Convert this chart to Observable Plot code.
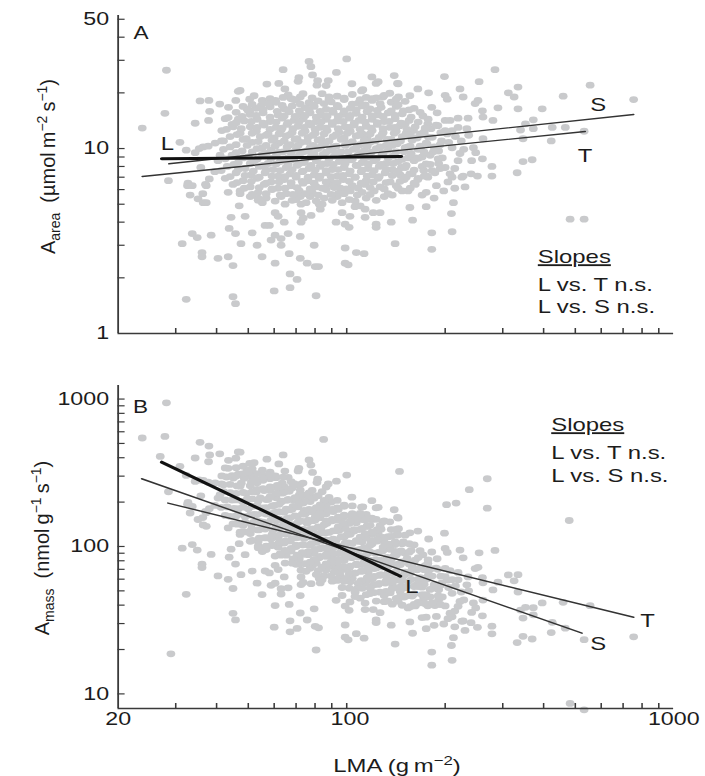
<!DOCTYPE html>
<html><head><meta charset="utf-8">
<script src="https://cdn.jsdelivr.net/npm/d3@7"></script>
<script src="https://cdn.jsdelivr.net/npm/@observablehq/plot@0.6"></script>
<style>
html,body{margin:0;padding:0;background:#fff;overflow:hidden;}
#chart{width:705px;height:776px;position:relative;background:#fff;}
#chart svg{display:block;}
</style></head><body><div id="chart"></div>
<script>
// ---------- tick values ----------
const lmaLabels = [20, 100, 1000];
const lmaMinorTicks = [30, 40, 50, 60, 70, 80, 90, 100, 200, 300, 400, 500, 600, 700, 800, 900];
const aareaLabels = [1, 10, 50];
const aareaMinorTicks = [2, 3, 4, 5, 6, 7, 8, 9, 10, 20, 30, 40, 50];
const amassLabels = [10, 100, 1000];
const amassMinorTicks = [10, 20, 30, 40, 50, 60, 70, 80, 90, 100, 200, 300, 400, 500, 600, 700, 800, 900, 1000];

// ---------- species points: [LMA (g m-2), Aarea (umol m-2 s-1)] ----------
const leavesA = [
  [32.3,1.53],[44.9,1.58],[45.7,1.45],[60,1.7],[67.1,1.77],[80.6,1.6],[67.1,2.1],[70.5,1.96],
  [31.4,3.06],[33.7,3.47],[34.9,3.3],[38.5,3.4],[36.1,2.74],[36.1,2.6],[40.4,2.55],[43.4,2.6],[44.9,2.33],[43.7,3.7],[45.7,3.47],[47.5,3.06],[53.2,3.0],[55.1,2.6],[60.4,2.4],[63,3.0],[58.7,3.2],[60.4,3.4],[63,3.26],[66.2,3.47],[66.7,2.7],[72.1,2.55],[75.7,2.4],[80.1,2.3],[82,2.3],[72.1,3.35],[79.5,3.0],[98.9,2.9],[98.9,2.4],[101,2.35],[107,2.74],[113,2.7],[140.6,3.06],
  [51.4,3.5],[56.3,3.84],[58,3.84],[60.4,4.5],[64.4,4.0],[61.7,4.3],[72.5,4.0],[73.6,4.2],[77.8,4.35],[72.5,4.5],[72.5,5.0],[72.1,5.5],[82.4,5.0],[83,4.7],[92.8,4.0],[98.9,3.9],[101.7,3.75],[102.3,4.3],[96.8,4.5],[106,4.85],[113.8,4.7],[113.8,4.25],[120.5,4.5],[126.5,4.5],[123,3.9],[123,3.75],[136.8,4.0],
  [48.9,4.3],[46.9,4.9],[44.3,4.25],[33.2,5.6],[35.1,5.35],[36.4,5.1],[32.6,6.3],[37.2,6.3],[43.4,5.8],[47.2,5.7],[53.6,5.4],
  [154,5.9],[175,5.8],[156,4.8],[175,4.85],[212,5.1],[209,4.45],[210,3.55],[182,3.5],[182,2.85],[159,4.1],[482,4.15],[532,4.15],
  [28.1,26.5],[23.7,12.9],[27.8,15.5],[46.6,20.4],[35.6,18.1],[40.9,17.4],[38.1,15.9],[34.4,13.7],[37.8,14.2],[50.5,18.5],[63.9,26.7],[76.7,29.6],[77.7,27.7],[100,30.5],[93,25.8],[71,23.1],[78.6,25],[139.7,24.8],[124.8,23],[143.6,22.4],[135.4,19.9],[30.9,10.8],[32.3,9.8],[34.4,9.5],[36.4,10.2],[37.7,10.3],[28.5,6.7],[32.7,6.5],[37,6.4],[38,6.85],[41.4,11],[42.9,12.7],[45,13.1],[43.4,14.7],[49.5,16.4],[46.6,14.4],[54.8,17.1],[60.5,18.2],[67.6,18.6],[73.5,19.8],[64.7,21],[87.8,23.3],[81.1,22],[103.7,22.4],[111,20.5],[119.4,18.6],[119.4,24.4],
  [284,26.7],[199,24.5],[254,23],[555,22],[754,18.4],[459,19.2],[396,16.4],[334,21.5],[312,20],[325,19],[334,16.4],[372,14.3],[466,13],[532,12.4],[425,13],[372,12.8],[290,16.6],[252,18.2],[247,17.5],[261,14.8],[280,14.2],[261,11.3],[346,11.3],[346,8.5],[369,8.7],[332,7.4],[278,8.0],[260,8.8],[278,7.1],[251,7.1],[240,7.3],[227,7.1],[210,7.0],[186,7.4],[176,7.1],[222,21],[227,19],[200,19.4],[203,18.5],[178,20],[165,21],[143,22.5],[182,16.7],[189,15.6],[200,14.2],[219,14.6],[235,14.6],[233,12.8],[244,10.1],[224,11],[203,12],[210,10.1],[191,9.7],[178,11.5],[168,10],[159,11.5],[151,13.6],[191,8.3],
  [422,11],[340,12.6],[352,13.6],[260,16],[219,13],
  [35.4,10],[35.8,7.9],[33.7,6.3],[36.3,5.7],[37.2,5.1],[39.5,7.5],[41,9.2],
  [37.9,18.2],[47.2,20.6],[52.1,19.3],[71.4,24.2],[81.5,23.3],[86.5,21.9],[88.3,19],[112,20.8],[129,19],[144,19],[156,19.3],[149,16],[123,22.5],[62,22.5],[57,22.3],[50.5,16],[45.8,18.2],[43.5,16.7],
  [147,7.9],[156,7.3],[170,9],[177,7],[200,7.9],[207,7.3],[162,6.4],[225,7.0],[146,11],[154,10.2],[160,12.5],[177,13.6],[171,15],[190,13.3],[210,12.5],[195,11],[219,8.6],[241,8.6],
  [165,6.8],[172,7.6],[180,8.2],[188,6.3],[196,8.9],[204,6.6],[214,7.8],[222,9.4],[230,6.2],[168,12],[176,10.6],[184,9.6],[194,12.2],[205,10.8],[215,11.6],[228,9.9],[185,5.4],[198,5.9],[163,8.9],[236,11.8],[248,9.5],[214,6.1],[170,5.6],[181,12.8],[207,14.2],
  [66.2,19.5],[72.1,19.0],[84.1,19.8],[93.5,19.2],[104,19.6],[114.7,18.9],[130.2,19.4],
  [55.2,18.2],[60.8,17.8],[70,18.3],[76.7,17.7],[81.8,18.1],[89.6,17.9],[98.2,18.4],[108.4,17.6],[119.6,18.2],[136.8,17.8],[150.9,18],
  [48.2,16.9],[52.9,16.5],[58.3,16.8],[64.4,16.4],[68.1,17.0],[74.6,16.6],[79.5,16.9],[86.5,16.3],[94.2,16.8],[102.5,16.5],[111.5,17.0],[117.9,16.4],[127.4,16.7],[141.7,16.9],[160.7,16.5],
  [45.9,15.7],[50.7,15.3],[55.5,15.6],[61.7,15.2],[66.7,15.8],[72.1,15.4],[77.3,15.6],[84.1,15.1],[90.9,15.7],[97.5,15.3],[106.9,15.5],[115.5,15.8],[124.8,15.2],[133.9,15.6],[147.8,15.4],[167.7,15.7],
  [42.5,14.5],[48.6,14.1],[53.2,14.4],[58.3,14.0],[63.5,14.6],[69,14.2],[73.6,14.5],[80.7,14.0],[86.5,14.4],[93.5,14.1],[101.8,14.6],[109.1,14.2],[119.6,14.4],[130.2,14.0],[140.6,14.5],[155.2,14.2],[177.4,14.4],
  [44.6,13.5],[50.7,13.1],[55.9,13.4],[60.8,13.0],[65.7,13.5],[71,13.2],[77.8,13.4],[82.9,13.0],[90.3,13.5],[98.9,13.1],[105.4,13.4],[114.7,13.2],[124,13.5],[135.8,13.0],[145.7,13.3],[161.9,13.1],[187.7,13.4],
  [41.5,12.5],[47.2,12.1],[52.9,12.4],[57.5,12.0],[63,12.6],[68.1,12.2],[74.6,12.4],[80.1,12.1],[87.1,12.5],[94.8,12.2],[102.5,12.4],[111.5,12.0],[119.6,12.5],[129.2,12.2],[141.7,12.4],[152,12.1],[172.5,12.3],[200,12.5],
  [44,11.6],[49.3,11.3],[54.4,11.6],[60,11.4],[65.3,11.7],[70.5,11.3],[76.2,11.5],[83.5,11.2],[90.9,11.6],[98.2,11.4],[106.9,11.7],[115.5,11.3],[125.7,11.5],[136.8,11.2],[147.8,11.6],[164.2,11.4],[182.5,11.5],
  [39.6,10.7],[45.9,10.5],[51.4,10.8],[56.7,10.4],[62.1,10.7],[67.1,10.5],[72.6,10.8],[78.9,10.4],[85.9,10.6],[92.9,10.3],[101.1,10.7],[109.9,10.5],[117.9,10.8],[132,10.4],[142.6,10.6],[156.3,10.3],[174.9,10.7],[193.1,10.5],
  [42,9.9],[47.9,9.7],[53.2,10.0],[58.7,9.8],[63.9,9.6],[70,9.9],[75.7,9.7],[81.8,10.0],[89,9.8],[96.2,9.6],[104.7,9.9],[113.1,9.7],[123.1,10.0],[133.9,9.8],[149.8,9.6],[165.4,9.9],
  [44.6,9.2],[50,9.0],[55.2,9.3],[60.8,9.1],[66.2,8.9],[71.6,9.2],[77.8,9.0],[84.7,9.3],[91.6,9.1],[99.6,8.9],[108.4,9.2],[117.1,9.0],[128.3,9.3],[138.8,9.1],[154.1,8.9],[179.9,9.2],
  [40.4,8.6],[46.6,8.4],[52.1,8.6],[57.5,8.3],[62.6,8.5],[68.1,8.7],[74.1,8.4],[80.7,8.6],[87.1,8.3],[94.8,8.5],[103.2,8.7],[111.5,8.4],[121.3,8.6],[132,8.3],[143.6,8.5],[160.7,8.6],
  [43.1,8.0],[48.9,7.8],[54,8.0],[59.5,7.7],[65.3,7.9],[70.5,8.1],[76.7,7.8],[82.9,8.0],[90.3,7.7],[98.2,7.9],[106.9,8.1],[116.3,7.8],[125.7,8.0],[137.8,7.7],[150.9,7.9],[170.1,8.0],[193.1,7.8],
  [45.9,7.4],[51.1,7.2],[56.3,7.4],[61.7,7.1],[67.1,7.3],[73.1,7.5],[79.5,7.2],[86.5,7.4],[93.5,7.1],[101.8,7.3],[110.7,7.5],[119.6,7.2],[131.1,7.4],[145.7,7.2],[158.5,7.3],
  [42.5,6.9],[48.2,6.7],[53.2,6.9],[58.7,6.6],[64.4,6.8],[70,7.0],[76.2,6.7],[82.4,6.9],[89.6,6.6],[97.5,6.8],[106.1,7.0],[114.7,6.7],[124.8,6.9],[135.8,6.6],[149.8,6.8],[165.4,6.9],
  [44.9,6.4],[50.7,6.2],[55.9,6.4],[61.7,6.1],[67.6,6.3],[73.6,6.5],[80.7,6.2],[87.7,6.4],[95.5,6.1],[104,6.3],[113.9,6.4],[126.5,6.2],[141.7,6.3],[156.3,6.1],
  [47.2,5.9],[53.6,5.8],[59.1,6.0],[65.3,5.7],[71.6,5.9],[78.4,5.8],[86.5,6.0],[94.2,5.7],[102.5,5.9],[111.5,5.8],[121.3,5.9],[133.9,5.7],[147.8,5.9],
  [50.7,5.5],[56.7,5.4],[63,5.5],[70,5.3],[77.3,5.5],[85.3,5.4],[93.5,5.5],[101.8,5.3],[114.7,5.4],[130.2,5.5],
  [55.2,5.1],[64.8,5.0],[75.1,5.1],[84.1,5.0],[96.8,5.1],[109.9,4.9],
  [58.3,18.6],[63.9,18.9],[69,18.4],[78.4,18.8],[88.3,18.5],[98.2,18.7],[109.9,18.4],[123.1,18.8],[141.7,18.5],
  [51.4,17.3],[57.5,17.5],[63.5,17.1],[72.1,17.4],[78.9,17.2],[85.3,17.5],[93.5,17.1],[104,17.4],[113.9,17.2],[126.5,17.5],[143.6,17.2],
  [50,16.0],[55.5,16.2],[61.3,15.9],[66.2,16.1],[71.6,16.0],[76.7,16.2],[82.9,15.9],[90.3,16.1],[98.2,16.0],[106.9,16.2],[115.5,15.9],[124,16.1],[136.8,16.0],[155.2,16.2],
  [47.9,14.9],[52.9,15.1],[58.3,14.8],[64.4,15.0],[69.5,14.9],[74.6,15.1],[80.7,14.8],[87.1,15.0],[94.2,14.9],[102.5,15.1],[111.5,14.8],[119.6,15.0],[129.2,14.9],[140.6,15.1],[157.4,14.8],
  [45.9,13.8],[51.1,14.0],[55.5,13.7],[60.8,13.9],[66.2,13.8],[71.6,14.0],[76.7,13.7],[83.5,13.9],[90.3,13.8],[97.5,14.0],[105.4,13.7],[113.9,13.9],[124,13.8],[134.8,14.0],[146.7,13.7],[165.4,13.9],
  [47.6,12.8],[53.2,13.0],[58.3,12.7],[63.5,12.9],[68.5,12.8],[74.1,13.0],[80.1,12.7],[86.5,12.9],[94.2,12.8],[101.8,13.0],[109.9,12.7],[118.8,12.9],[129.2,12.8],[140.6,13.0],[153,12.7],[173.7,12.9],
  [46.2,11.9],[51.4,12.1],[56.7,11.8],[62.1,12.0],[67.1,11.9],[73.1,12.1],[78.9,11.8],[85.3,12.0],[92.9,11.9],[100.4,12.1],[109.1,11.8],[117.9,12.0],[128.3,11.9],[139.7,12.1],[155.2,11.8],[172.5,12.0],
  [42,11.0],[48.2,11.2],[53.6,10.9],[59.1,11.1],[64.4,11.0],[69.5,11.2],[75.7,10.9],[81.8,11.1],[88.3,11.0],[96.2,11.2],[104,10.9],[113.1,11.1],[122.2,11.0],[133,11.2],[143.6,10.9],[158.5,11.1],
  [44,10.2],[49.6,10.4],[55.2,10.1],[60.4,10.3],[65.7,10.2],[71,10.4],[77.3,10.1],[83.5,10.3],[90.9,10.2],[98.9,10.4],[106.9,10.1],[115.5,10.3],[126.5,10.2],[137.8,10.4],[150.9,10.1],[167.7,10.3],[185.1,10.2],
  [45.9,9.5],[51.4,9.6],[56.7,9.4],[62.1,9.55],[67.6,9.5],[73.6,9.6],[79.5,9.4],[86.5,9.55],[93.5,9.5],[101.1,9.6],[109.9,9.4],[118.8,9.55],[129.2,9.5],[141.7,9.6],[157.4,9.4],[172.5,9.55],
  [42.5,8.8],[48.2,8.9],[53.2,8.75],[58.7,8.85],[63.9,8.8],[69,8.9],[74.6,8.75],[81.3,8.85],[88.3,8.8],[96.2,8.9],[104,8.75],[113.1,8.85],[123.1,8.8],[133.9,8.9],[147.8,8.75],[165.4,8.85],[190.4,8.8],
  [45.2,8.2],[50.7,8.3],[55.5,8.1],[60.8,8.25],[66.2,8.2],[71.6,8.3],[77.8,8.1],[84.1,8.25],[90.9,8.2],[98.9,8.3],[107.7,8.1],[116.3,8.25],[127.4,8.2],[138.8,8.3],[152,8.1],[174.9,8.25],
  [41.3,7.6],[46.6,7.7],[51.8,7.55],[56.7,7.65],[62.6,7.6],[68.1,7.7],[73.6,7.55],[80.1,7.65],[86.5,7.6],[94.2,7.7],[102.5,7.55],[111.5,7.65],[121.3,7.6],[132,7.7],[143.6,7.55],[160.7,7.65],[182.5,7.6],
  [44,7.05],[48.9,7.15],[54,7.0],[59.1,7.1],[64.8,7.05],[70,7.15],[76.2,7.0],[82.9,7.1],[89.6,7.05],[97.5,7.15],[106.1,7.0],[115.5,7.1],[125.7,7.05],[137.8,7.15],[152,7.0],[172.5,7.1],
  [46.2,6.55],[51.1,6.65],[56.7,6.5],[62.1,6.6],[67.6,6.55],[73.1,6.65],[79.5,6.5],[86.5,6.6],[93.5,6.55],[101.8,6.65],[110.7,6.5],[120.5,6.6],[132,6.55],[145.7,6.65],[160.7,6.5],
  [48.6,6.1],[54,6.15],[59.1,6.05],[64.8,6.1],[70.5,6.15],[77.3,6.05],[84.1,6.1],[91.6,6.15],[99.6,6.05],[108.4,6.1],[117.9,6.15],[130.2,6.05],[143.6,6.1],
  [51.4,5.65],[56.7,5.7],[62.6,5.6],[68.5,5.65],[74.6,5.7],[81.8,5.6],[89.6,5.65],[98.2,5.7],[107.7,5.6],[117.9,5.65],[137.8,5.6],
  [53.6,5.25],[60.4,5.2],[68.1,5.25],[80.7,5.2],[90.3,5.25],[106.1,5.2],[123.1,5.25]
];

// species shown only in panel B: [LMA, Amass (nmol g-1 s-1)]
const extraB = [[479,150],[269,288],[269,182],[237,243],[216,197],[202,192],[145,323],[85,532],[29,18.7],[26.9,408]];

// ---------- SMA fit lines (end points) ----------
const fitA_L = [[27.2, 8.8], [146.7, 9.05]];
const fitA_S = [[28.6, 8.27], [754, 15.27]];
const fitA_T = [[23.7, 7.06], [536, 12.36]];
const fitB_L = [[27.2, 373], [145.8, 62.9]];
const fitB_S = [[23.6, 288], [524, 25.8]];
const fitB_T = [[28.4, 197], [754, 33.1]];

// ---------- annotations ----------
const slopeNotes = ["Slopes", "L vs. T n.s.", "L vs. S n.s."];
const notesA_y = [2.42, 1.707, 1.283];
const notesB_y = [612, 393, 273];
const lineLabelsA = [["L", 27, 9.77], ["S", 555, 16.05], ["T", 509, 8.43]];
const lineLabelsB = [["L", 151, 48], ["T", 790, 28.3], ["S", 555, 19.9]];

// ---------- layout ----------
const W = 546, S = 705 / W;
const FONT = "'Liberation Sans', Arial, Helvetica, sans-serif";
const DOT = "#c9cacc", AX = "#3a3a3a", INK = "#1c1c1c";
const ML = 91, MR = 24.7, PW = W - ML - MR;

const dotsA = leavesA.map(([lma, a]) => ({lma, a}));
const dotsB = leavesA.map(([lma, a]) => ({lma, m: a * 1000 / lma}))
  .concat(extraB.map(([lma, m]) => ({lma, m})));
const xy = {x: d => d[0], y: d => d[1]};

function fitMarks(L, Sx, T) {
  return [
    Plot.line(T, {...xy, stroke: "#333", strokeWidth: 1.4}),
    Plot.line(Sx, {...xy, stroke: "#333", strokeWidth: 1.4}),
    Plot.line(L, {...xy, stroke: "#111", strokeWidth: 3})
  ];
}

function finish(svg, h) {
  svg.setAttribute("viewBox", `0 0 ${W} ${h}`);
  svg.setAttribute("width", 705);
  svg.setAttribute("height", h);
  svg.setAttribute("preserveAspectRatio", "none");
  svg.style.width = "705px";
  svg.style.height = h + "px";
  svg.style.maxWidth = "none";
  svg.style.background = "transparent";
  d3.select(svg).selectAll("text").filter(function () { return this.textContent === "Slopes"; })
    .style("text-decoration", "underline");
  document.getElementById("chart").appendChild(svg);
}

function yTitle(svg, x, y, sub, unit1, sup1) {
  const t = d3.select(svg).append("text")
    .attr("transform", `translate(${x},${y}) scale(${1 / S},1) rotate(-90)`)
    .attr("text-anchor", "middle").attr("font-family", FONT).attr("font-size", 20).attr("fill", INK);
  t.append("tspan").text("A");
  t.append("tspan").attr("font-size", 14).attr("dy", 5).text(sub);
  t.append("tspan").attr("dy", -5).text("\u2002(" + unit1);
  t.append("tspan").attr("font-size", 14).attr("dy", -8).text(sup1);
  t.append("tspan").attr("dy", 8).text("\u2009s");
  t.append("tspan").attr("font-size", 14).attr("dy", -8).text("\u22121");
  t.append("tspan").attr("dy", 8).text(")");
}

// ---------- Panel A ----------
const hA = 345, mtA = 15, mbA = 12;
const svgA = Plot.plot({
  width: W, height: hA, marginTop: mtA, marginBottom: mbA, marginLeft: ML, marginRight: MR,
  style: {fontFamily: FONT, fontSize: "18px", color: INK, background: "transparent"},
  x: {type: "log", domain: [20, 1000], axis: null, label: null},
  y: {type: "log", domain: [1, 52.4], label: null},
  marks: [
    Plot.dot(dotsA, {x: "lma", y: "a", r: 3.4, fill: DOT, stroke: null}),
    Plot.ruleX([20], {stroke: AX, strokeWidth: 1.4}),
    Plot.ruleY([1], {stroke: AX, strokeWidth: 1.4}),
    Plot.ruleX(lmaMinorTicks, {stroke: AX, strokeWidth: 1.2, insetTop: hA - mtA - mbA - 5}),
    Plot.ruleY(aareaMinorTicks, {stroke: AX, strokeWidth: 1.2, insetRight: PW - 5.5}),
    Plot.axisY(aareaLabels, {tickSize: 0, tickPadding: 7, tickFormat: d => String(d), label: null, fontSize: 18, fill: INK}),
    ...fitMarks(fitA_L, fitA_S, fitA_T),
    Plot.text(lineLabelsA, {x: d => d[1], y: d => d[2], text: d => d[0], textAnchor: "start", lineAnchor: "bottom", fontSize: 18.5, fill: INK}),
    Plot.text(slopeNotes, {x: () => 384, y: (d, i) => notesA_y[i], text: d => d, textAnchor: "start", lineAnchor: "bottom", fontSize: 18.5, fill: INK}),
    Plot.text(["A"], {x: () => 22.3, y: () => 39.2, text: d => d, textAnchor: "start", lineAnchor: "bottom", fontSize: 17.5, fill: INK})
  ]
});
yTitle(svgA, 42.6, 166.5, "area", "\u00b5mol\u2009m", "\u22122");
finish(svgA, hA);

// ---------- Panel B ----------
const hB = 431, mtB = 40, mbB = 68;
const svgB = Plot.plot({
  width: W, height: hB, marginTop: mtB, marginBottom: mbB, marginLeft: ML, marginRight: MR,
  style: {fontFamily: FONT, fontSize: "18px", color: INK, background: "transparent"},
  x: {type: "log", domain: [20, 1000], label: null},
  y: {type: "log", domain: [7.96, 1236], label: null},
  marks: [
    Plot.dot(dotsB, {x: "lma", y: "m", r: 3.4, fill: DOT, stroke: null}),
    Plot.ruleX([20], {stroke: AX, strokeWidth: 1.4}),
    Plot.ruleY([7.96], {stroke: AX, strokeWidth: 1.4}),
    Plot.ruleX(lmaMinorTicks, {stroke: AX, strokeWidth: 1.2, insetTop: hB - mtB - mbB - 5}),
    Plot.ruleY(amassMinorTicks, {stroke: AX, strokeWidth: 1.2, insetRight: PW - 5.5}),
    Plot.axisY(amassLabels, {tickSize: 0, tickPadding: 7, tickFormat: d => String(d), label: null, fontSize: 18, fill: INK}),
    Plot.axisX(lmaLabels.slice(0, 1), {tickSize: 0, tickPadding: 4, tickFormat: d => String(d), label: null, fontSize: 18, fill: INK}),
    Plot.axisX(lmaLabels.slice(1, 2), {tickSize: 0, tickPadding: 4, dx: 2.5, tickFormat: d => String(d), label: null, fontSize: 18, fill: INK}),
    Plot.axisX(lmaLabels.slice(2), {tickSize: 0, tickPadding: 4, tickFormat: d => String(d), label: null, fontSize: 18, fill: INK}),
    ...fitMarks(fitB_L, fitB_S, fitB_T),
    Plot.text(lineLabelsB, {x: d => d[1], y: d => d[2], text: d => d[0], textAnchor: "start", lineAnchor: "bottom", fontSize: 18.5, fill: INK}),
    Plot.text(slopeNotes, {x: () => 422, y: (d, i) => notesB_y[i], text: d => d, textAnchor: "start", lineAnchor: "bottom", fontSize: 18.5, fill: INK}),
    Plot.text(["B"], {x: () => 22.2, y: () => 807, text: d => d, textAnchor: "start", lineAnchor: "bottom", fontSize: 17.5, fill: INK})
  ]
});
yTitle(svgB, 37.9, 203, "mass", "nmol\u2009g", "\u22121");
{
  const t = d3.select(svgB).append("text")
    .attr("x", 307.5).attr("y", 426.7).attr("text-anchor", "middle")
    .attr("font-family", FONT).attr("font-size", 18.5).attr("fill", INK);
  t.append("tspan").text("LMA (g\u2009m");
  t.append("tspan").attr("font-size", 13).attr("dy", -7).text("\u22122");
  t.append("tspan").attr("dy", 7).text(")");
}
finish(svgB, hB);
</script></body></html>
